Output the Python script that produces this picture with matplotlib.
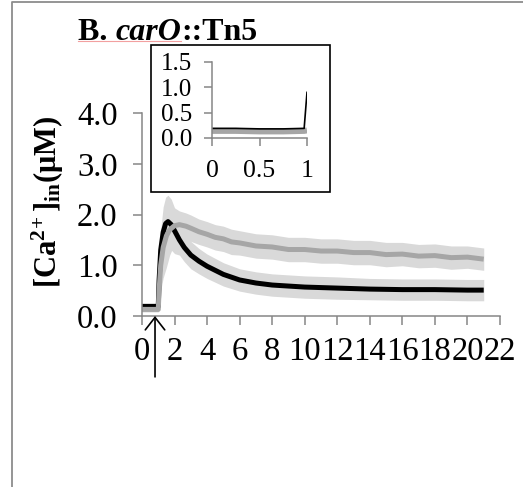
import matplotlib
matplotlib.use("Agg")
import matplotlib.pyplot as plt
from matplotlib.patches import Rectangle
from matplotlib.lines import Line2D

plt.rcParams['font.family'] = ['Liberation Serif', 'DejaVu Serif']
plt.rcParams['mathtext.default'] = 'regular'

AXIS_GREY = '#868686'
BAND_GREY = '#d9d9d9'
TRACE_GREY = '#a6a6a6'

# ---- main trace: [Ca2+]in (uM) against time (min), mean and SD ----
black_t = [0, 0.5, 1.0, 1.05, 1.15, 1.3, 1.45, 1.6, 1.8, 2.0, 2.3, 2.6, 3.0, 3.5,
           4.0, 5.0, 6.0, 7.0, 8.0, 9.0, 10, 12, 14, 16, 18, 20, 21]
black_mean = [0.19, 0.19, 0.19, 0.7, 1.3, 1.65, 1.82, 1.86, 1.8, 1.68, 1.5, 1.35, 1.2, 1.08,
              0.98, 0.82, 0.71, 0.65, 0.61, 0.59, 0.57, 0.55, 0.53, 0.52, 0.52, 0.51, 0.51]
black_sd = [0.04, 0.04, 0.04, 0.3, 0.4, 0.5, 0.52, 0.52, 0.5, 0.45, 0.3, 0.28, 0.27, 0.25,
            0.24, 0.23, 0.22, 0.22, 0.22, 0.22, 0.22, 0.22, 0.21, 0.21, 0.21, 0.21, 0.21]

grey_t = [0, 0.5, 1.0, 1.05, 1.15, 1.3, 1.5, 1.7, 2.0, 2.3, 2.7, 3.0, 3.5, 4.0, 4.5, 5.0, 5.5,
          6.0, 7.0, 8.0, 9.0, 10, 11, 12, 13, 14, 15, 16, 17, 18, 19, 20, 21]
grey_mean = [0.13, 0.13, 0.13, 0.5, 1.0, 1.35, 1.58, 1.7, 1.78, 1.8, 1.77, 1.73, 1.66, 1.61, 1.55, 1.52, 1.46,
             1.44, 1.38, 1.36, 1.31, 1.31, 1.28, 1.28, 1.25, 1.25, 1.21, 1.22, 1.18, 1.19, 1.15, 1.16, 1.12]
grey_sd = [0.05, 0.05, 0.05, 0.3, 0.5, 0.6, 0.62, 0.5, 0.35, 0.27, 0.26, 0.26, 0.25, 0.25, 0.25, 0.25, 0.25,
           0.24, 0.24, 0.24, 0.24, 0.24, 0.24, 0.24, 0.24, 0.24, 0.24, 0.23, 0.23, 0.23, 0.23, 0.22, 0.22]

# ---- inset: first minute ----
inset_t = [0, 0.25, 0.5, 0.75, 0.97, 1.0]
inset_black = [0.19, 0.19, 0.18, 0.18, 0.19, 0.9]
inset_grey = [0.14, 0.14, 0.13, 0.13, 0.14, 0.15]

x_ticks = list(range(0, 23, 2))
y_ticks = [0.0, 1.0, 2.0, 3.0, 4.0]
inset_xticks = [0, 0.5, 1]
inset_yticks = [0.0, 0.5, 1.0, 1.5]
stim_time = 0.8

W, H = 523, 487
fig = plt.figure(figsize=(W / 100, H / 100), dpi=100)

# main axes
ax = fig.add_axes([142 / W, 1 - 316 / H, (500 - 142) / W, (316 - 113) / H])
lo = [m - s for m, s in zip(black_mean, black_sd)]
hi = [m + s for m, s in zip(black_mean, black_sd)]
ax.fill_between(black_t, lo, hi, color=BAND_GREY, lw=0)
lo = [m - s for m, s in zip(grey_mean, grey_sd)]
hi = [m + s for m, s in zip(grey_mean, grey_sd)]
ax.fill_between(grey_t, lo, hi, color=BAND_GREY, lw=0)
ax.plot(black_t, black_mean, color='black', lw=3.6, solid_capstyle='butt')
ax.plot(grey_t, grey_mean, color=TRACE_GREY, lw=3.6, solid_capstyle='butt')

ax.set_xlim(0, 22)
ax.set_ylim(0, 4)
ax.set_xticks(x_ticks)
ax.set_xticklabels([str(v) for v in x_ticks])
ax.set_yticks(y_ticks)
ax.set_yticklabels(['%.1f' % v for v in y_ticks])
for s in ['top', 'right']:
    ax.spines[s].set_visible(False)
for s in ['left', 'bottom']:
    ax.spines[s].set_color(AXIS_GREY)
    ax.spines[s].set_linewidth(1.1)
ax.tick_params(direction='out', length=6.5, width=1.1, color=AXIS_GREY,
               labelsize=23.5, labelcolor='black')
ax.tick_params(axis='y', pad=11)
ax.tick_params(axis='x', pad=8)

# stimulus arrow
ax.annotate('', xy=(stim_time, 0), xytext=(stim_time, -1.2),
            arrowprops=dict(arrowstyle='->, head_length=0.45, head_width=0.35',
                            mutation_scale=20, lw=1.2, color='black',
                            shrinkA=0, shrinkB=0),
            annotation_clip=False)

# inset frame and axes
box = Rectangle((151 / W, 1 - 192 / H), (330 - 151) / W, (192 - 45) / H,
                transform=fig.transFigure, facecolor='white', edgecolor='black',
                lw=1.2, zorder=2)
fig.patches.append(box)

ins = fig.add_axes([212 / W, 1 - 138 / H, (307 - 212) / W, (138 - 62) / H])
ins.set_zorder(3)
ins.patch.set_alpha(0)
ins.plot(inset_t, inset_grey, color=TRACE_GREY, lw=4.3, solid_capstyle='butt')
ins.plot(inset_t, inset_black, color='black', lw=1.2)
ins.set_xlim(0, 1)
ins.set_ylim(0, 1.5)
ins.set_xticks(inset_xticks)
ins.set_xticklabels(['0', '0.5', '1'])
ins.set_yticks(inset_yticks)
ins.set_yticklabels(['%.1f' % v for v in inset_yticks])
for s in ['top', 'right']:
    ins.spines[s].set_visible(False)
for s in ['left', 'bottom']:
    ins.spines[s].set_color(AXIS_GREY)
    ins.spines[s].set_linewidth(1.1)
ins.tick_params(direction='out', length=5.5, width=1.1, color=AXIS_GREY, labelcolor='black')
ins.tick_params(axis='y', labelsize=18, pad=9)
ins.tick_params(axis='x', labelsize=18.5, pad=10)

# y label
fig.text(48 / W, 1 - 202 / H, r'[Ca$^{2\!+}$]$_{in}$(μM)', rotation=90,
         ha='center', va='center', fontsize=22, fontweight='bold')

# panel title, italic gene name between bold pieces
fig.canvas.draw()
rend = fig.canvas.get_renderer()
x0 = 78 / W
base = 1 - 40 / H
parts = [('B. ', 'normal'), ('carO', 'italic'), ('::Tn5', 'normal')]
for txt, style in parts:
    t = fig.text(x0, base, txt, fontsize=23, fontweight='bold', fontstyle=style,
                 va='baseline', ha='left')
    bb = t.get_window_extent(rend)
    x0 = bb.x1 / W

# spell-check squiggle under the first part of the title
fig.lines.append(Line2D([78 / W, 181 / W], [1 - 41 / H, 1 - 41 / H],
                        transform=fig.transFigure, color='#f2a0a0', lw=0.8))

# outer frame edges
fig.lines.append(Line2D([12 / W, 12 / W, 1.0], [0.0, 1 - 1.5 / H, 1 - 1.5 / H],
                        transform=fig.transFigure, color='#8c8c8c', lw=1.3))

fig.savefig('out.png', dpi=100)
